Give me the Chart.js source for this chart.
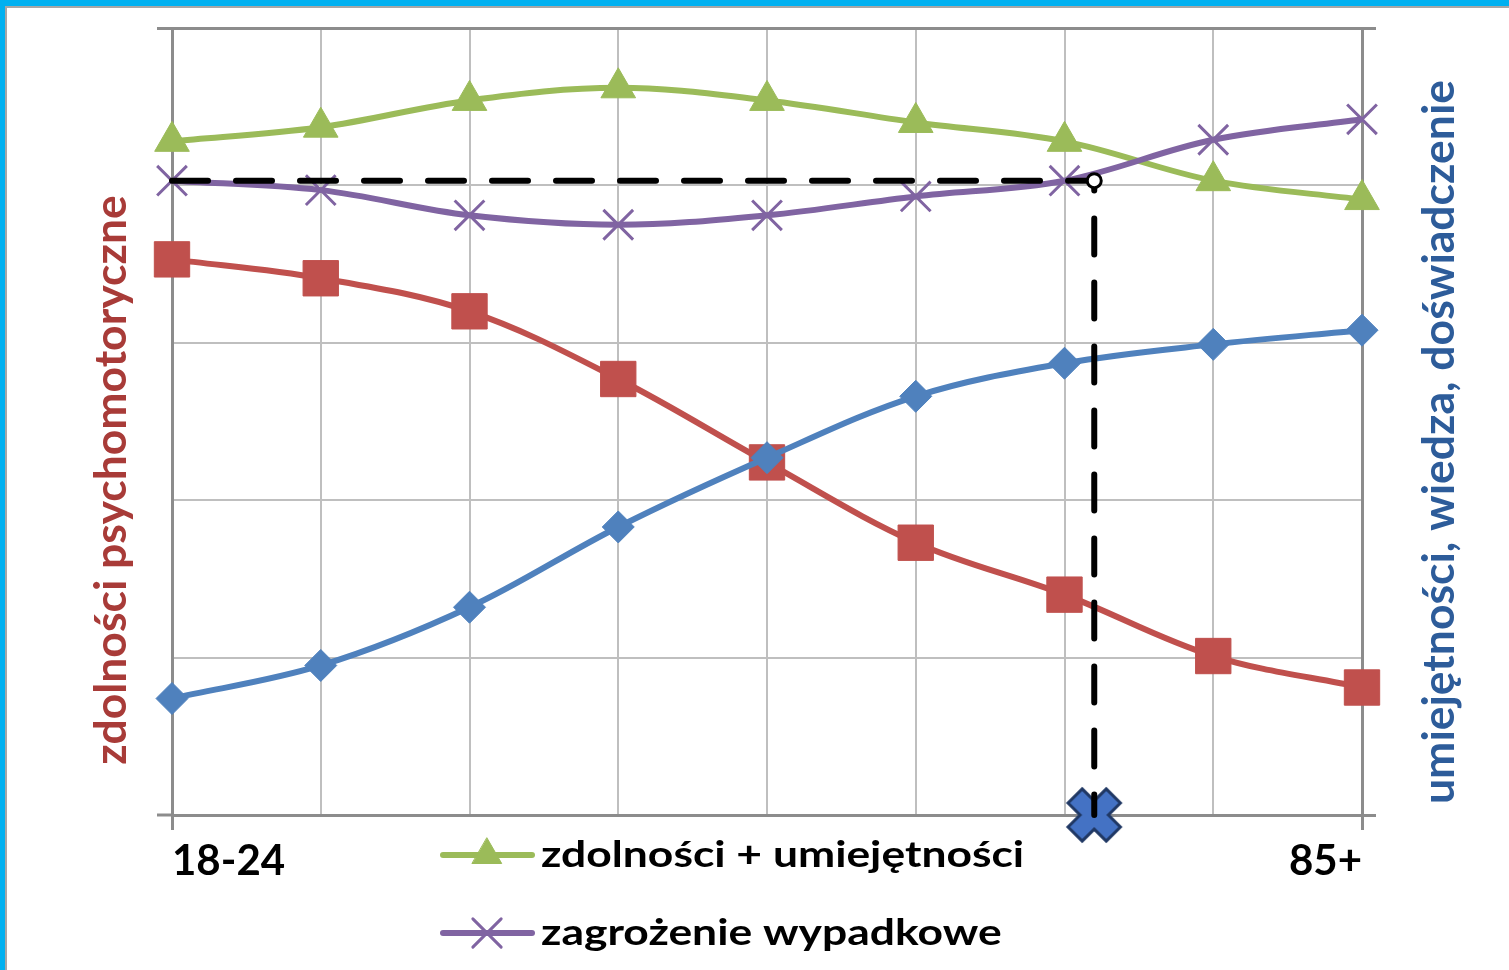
<!DOCTYPE html>
<html>
<head>
<meta charset="utf-8">
<script src="https://cdn.jsdelivr.net/npm/chart.js@4/dist/chart.umd.min.js"></script>
<style>
  html, body { margin: 0; padding: 0; background: #fff; }
  #wrap { position: relative; width: 1509px; height: 970px; overflow: hidden; }
  #chart { position: absolute; left: 0; top: 0; }
  #frame {
    position: absolute; left: 0; top: 0; width: 1509px; height: 970px;
    box-sizing: border-box; pointer-events: none;
    border-top: 6px solid #00B0F0; border-left: 5px solid #00B0F0;
  }
  #frame::after {
    content: ""; position: absolute; left: 0; top: 0; right: 0; bottom: 0;
    border-top: 2px solid #A6A6A6; border-left: 2px solid #A6A6A6;
  }
</style>
</head>
<body>
<div id="wrap">
  <canvas id="chart" width="1509" height="970"></canvas>
  <div id="frame"></div>
</div>
<script>
// age groups, only the first and last one are labelled
const categories = ["18-24", "", "", "", "", "", "", "", "85+"];

// values (gridline units 0..5)
const psychomotor = [3.53, 3.41, 3.20, 2.77, 2.24, 1.73, 1.40, 1.01, 0.81];   // red
const experience  = [0.74, 0.95, 1.32, 1.83, 2.27, 2.66, 2.87, 2.99, 3.08];   // blue
const combined    = [4.28, 4.37, 4.54, 4.62, 4.54, 4.40, 4.28, 4.03, 3.91];   // green
const risk        = [4.03, 3.97, 3.81, 3.75, 3.81, 3.93, 4.03, 4.29, 4.42];   // purple

// the marked age and risk level (dashed guide)
const markerAge = 6.2;
const markerLevel = 4.03;

const leftTitle = "zdolności psychomotoryczne";
const rightTitle = "umiejętności, wiedza, doświadczenie";

const FONT = "Lato, 'Open Sans', sans-serif";
const DARK = "#8C8C8C";
const LIGHT = "#BFBFBF";

const toPoints = (arr) => arr.map((v, i) => ({ x: i, y: v }));

// big blue X used as the marker on the age axis
function makeXMarker() {
  const c = document.createElement("canvas");
  c.width = 62; c.height = 62;
  const g = c.getContext("2d");
  const a = 27, b = 10;
  const pts = [[b, -b], [a, -b], [a, b], [b, b], [b, a], [-b, a], [-b, b], [-a, b], [-a, -b], [-b, -b], [-b, -a], [b, -a]];
  g.translate(31, 31);
  g.rotate(Math.PI / 4);
  g.beginPath();
  pts.forEach(([x, y], i) => i ? g.lineTo(x, y) : g.moveTo(x, y));
  g.closePath();
  g.fillStyle = "#4472C4";
  g.fill();
  g.lineWidth = 3;
  g.strokeStyle = "#203864";
  g.stroke();
  return c;
}

const line = (label, data, color, style, radius, extra) => Object.assign({
  label: label,
  data: toPoints(data),
  borderColor: color,
  backgroundColor: color,
  borderWidth: 6,
  tension: 0.35,
  pointStyle: style,
  pointRadius: radius,
  pointBackgroundColor: color,
  pointBorderColor: color,
  pointBorderWidth: 1,
  clip: false
}, extra || {});

const legendAndTitles = {
  id: "legendAndTitles",
  afterDraw(chart) {
    const ctx = chart.ctx;
    ctx.save();
    // axis titles, drawn rotated
    ctx.font = "bold 44.5px " + FONT;
    ctx.textAlign = "center";
    ctx.textBaseline = "middle";
    [[leftTitle, 112, 480, "#A83B38"], [rightTitle, 1440, 442, "#2D5C9A"]].forEach(([t, x, y, col]) => {
      ctx.save();
      ctx.translate(x, y);
      ctx.rotate(-Math.PI / 2);
      ctx.fillStyle = col;
      ctx.fillText(t, 0, 0);
      ctx.restore();
    });
    // legend: only the datasets flagged for it, one per row
    const rows = [855, 933];
    chart.data.datasets.forEach((ds) => {
      if (ds.legendRow === undefined) return;
      const y = rows[ds.legendRow];
      ctx.strokeStyle = ds.borderColor;
      ctx.fillStyle = ds.borderColor;
      ctx.lineWidth = 6;
      ctx.lineCap = "round";
      ctx.beginPath();
      ctx.moveTo(443, y);
      ctx.lineTo(532, y);
      ctx.stroke();
      ctx.lineWidth = ds.pointBorderWidth;
      Chart.helpers.drawPoint(ctx, {
        pointStyle: ds.pointStyle, radius: ds.legendRadius, rotation: 0, borderWidth: ds.pointBorderWidth
      }, 487, y);
      ctx.save();
      ctx.translate(541, y);
      ctx.scale(1.2, 1);
      ctx.fillStyle = "#000";
      ctx.font = "bold 37px " + FONT;
      ctx.textAlign = "left";
      ctx.textBaseline = "middle";
      ctx.fillText(ds.label, 0, 0);
      ctx.restore();
    });
    ctx.restore();
  }
};

new Chart(document.getElementById("chart"), {
  type: "line",
  data: {
    datasets: [
      {
        label: "circle",
        data: [{ x: markerAge, y: markerLevel }],
        showLine: false,
        pointStyle: "circle",
        pointRadius: 7,
        pointBackgroundColor: "#fff",
        pointBorderColor: "#000",
        pointBorderWidth: 3,
        clip: false
      },
      {
        label: "guide",
        data: [{ x: 0, y: markerLevel }, { x: markerAge, y: markerLevel }, { x: markerAge, y: 0 }],
        borderColor: "#000",
        borderWidth: 6,
        borderDash: [36, 28],
        borderCapStyle: "round",
        tension: 0,
        pointRadius: 0,
        clip: false
      },
      {
        label: "age",
        data: [{ x: markerAge, y: 0 }],
        showLine: false,
        pointStyle: makeXMarker(),
        clip: false
      },
      line("umiejętności, wiedza, doświadczenie", experience, "#4F81BD", "rectRot", 16),
      line("zagrożenie wypadkowe", risk, "#8064A2", "crossRot", 21, { pointBorderWidth: 3, legendRow: 1, legendRadius: 20 }),
      line("zdolności + umiejętności", combined, "#9BBB59", "triangle", 20, { legendRow: 0, legendRadius: 17 }),
      line("zdolności psychomotoryczne", psychomotor, "#C0504D", "rect", 25)
    ].map((ds, i) => Object.assign(ds, { order: i }))
  },
  options: {
    responsive: false,
    animation: false,
    events: [],
    layout: { padding: { top: 28, left: 0, right: 0, bottom: 0 } },
    plugins: { legend: { display: false }, tooltip: { enabled: false } },
    scales: {
      x: {
        type: "linear",
        min: 0,
        max: 8,
        afterFit: (s) => { s.height = 155; },
        afterBuildTicks: (s) => { s.ticks = categories.map((_, i) => ({ value: i })); },
        ticks: {
          autoSkip: false,
          maxRotation: 0,
          align: "inner",
          padding: 6,
          color: "#000",
          font: { family: FONT, size: 42, weight: "bold" },
          callback: (v) => categories[v]
        },
        grid: {
          color: (c) => (c.index === 0 || c.index === 8) ? DARK : LIGHT,
          lineWidth: (c) => (c.index === 0 || c.index === 8) ? 3 : 2,
          tickColor: (c) => (c.index === 0 || c.index === 8) ? DARK : "rgba(0,0,0,0)",
          tickLength: 15,
          tickWidth: 3
        },
        border: { display: true, color: DARK, width: 3 }
      },
      y: {
        position: "left",
        min: 0,
        max: 5,
        afterFit: (s) => { s.width = 172; },
        ticks: { display: false, stepSize: 1 },
        grid: {
          color: (c) => c.tick.value === 5 ? DARK : LIGHT,
          lineWidth: (c) => c.tick.value === 5 ? 3 : 2,
          tickColor: (c) => (c.tick.value === 0 || c.tick.value === 5) ? DARK : "rgba(0,0,0,0)",
          tickLength: 15,
          tickWidth: 3
        },
        border: { display: true, color: DARK, width: 3 }
      },
      y2: {
        position: "right",
        min: 0,
        max: 5,
        afterFit: (s) => { s.width = 147; },
        ticks: { display: false, stepSize: 1 },
        grid: {
          drawOnChartArea: false,
          tickColor: (c) => (c.tick.value === 0 || c.tick.value === 5) ? DARK : "rgba(0,0,0,0)",
          tickLength: 14,
          tickWidth: 3
        },
        border: { display: true, color: DARK, width: 3 }
      }
    }
  },
  plugins: [legendAndTitles]
});
</script>
</body>
</html>
